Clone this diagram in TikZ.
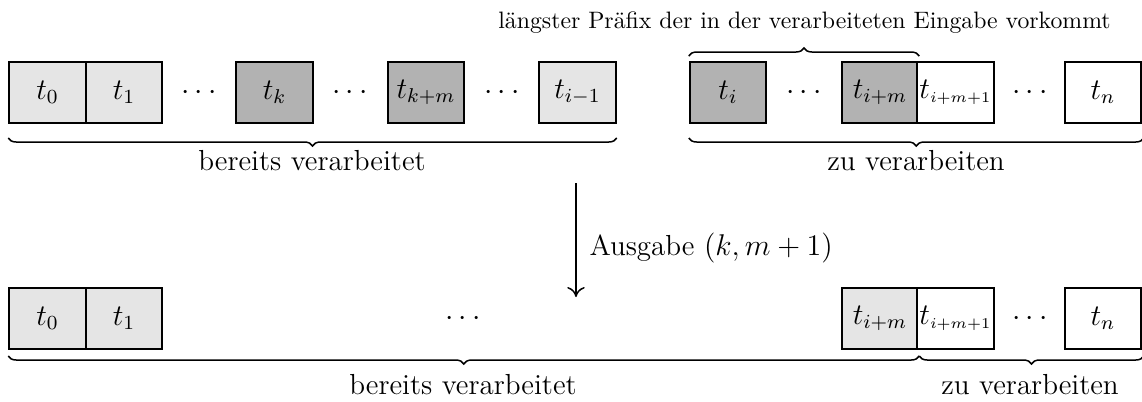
\documentclass[tikz,border=0pt]{standalone}
\usetikzlibrary{decorations.pathreplacing,arrows.meta}
\begin{document}
\begin{tikzpicture}[x=0.4pt,y=-0.4pt,
  lbl/.style={font=\fontsize{11.6}{14}\selectfont, inner sep=0pt},
  cell/.style={lbl, draw, line width=0.8pt, minimum width=30.6pt, minimum height=24.4pt, anchor=center},
  light/.style={cell, fill=black!10},
  dark/.style={cell, fill=black!30},
  plain/.style={cell, fill=white},
  dotsnode/.style={lbl},
  brc/.style={decorate, decoration={brace, amplitude=3.2pt}, line width=0.6pt},
  brcm/.style={decorate, decoration={brace, amplitude=3.2pt, mirror}, line width=0.6pt},
  captext/.style={font=\fontsize{11.6}{14}\selectfont, inner sep=0pt, anchor=base},
  smallcaptext/.style={font=\fontsize{9.5}{12}\selectfont, inner sep=0pt, anchor=base}
]
\useasboundingbox (0,0) rectangle (1142,401);

% ---- top row ----
\node[light] (a0) at (47.5,92.5) {$t_0$};
\node[light] (a1) at (124,92.5) {$t_1$};
\node[dotsnode] (ad1) at (199,92.5) {$\cdots$};
\node[dark] (ak) at (274.5,92.5) {$t_k$};
\node[dotsnode] (ad2) at (350,92.5) {$\cdots$};
\node[dark] (akm) at (426,92.5) {$t_{k+m}$};
\node[dotsnode] (ad3) at (502,92.5) {$\cdots$};
\node[light] (aim1) at (577.5,92.5) {$t_{i-1}$};

\node[dark] (ai) at (728,92.5) {$t_i$};
\node[dotsnode] (ad4) at (804,92.5) {$\cdots$};
\node[dark] (aim) at (880,92.5) {$t_{i+m}$};
\node[plain] (aim1b) at (955.5,92.5) {$t_{\scriptscriptstyle i+m+1}$};
\node[dotsnode] (ad5) at (1030,92.5) {$\cdots$};
\node[plain] (an) at (1103,92.5) {$t_n$};

% top braces
\draw[brcm] ([yshift=-5.6pt]a0.south west) -- ([yshift=-5.6pt]aim1.south east);
\node[captext] (t1) at (312,170) {bereits verarbeitet};
\draw[brcm] ([yshift=-5.6pt]ai.south west) -- ([yshift=-5.6pt,xshift=0.6pt]an.south east);
\node[captext] (t2) at (916,170) {zu verarbeiten};
\draw[brc] ([yshift=2pt]ai.north west) -- ([yshift=2pt]aim.north east);
\node[smallcaptext] (t3) at (804.5,28) {längster Präfix der in der verarbeiteten Eingabe vorkommt};

% arrow
\coordinate (arrtop) at (576,183);
\coordinate (arrbot) at (576,297);
\draw[line width=0.6pt, -{To[length=4pt,width=7pt]}] (arrtop) -- (arrbot);
\node[lbl, anchor=base west] (out) at (589,255) {Ausgabe $(k,m+1)$};

% ---- bottom row ----
\node[light] (b0) at (47.5,318.5) {$t_0$};
\node[light] (b1) at (124,318.5) {$t_1$};
\node[dotsnode] (bd1) at (463,318.5) {$\cdots$};
\node[light] (bim) at (880,318.5) {$t_{i+m}$};
\node[plain] (bim1) at (955.5,318.5) {$t_{\scriptscriptstyle i+m+1}$};
\node[dotsnode] (bd2) at (1030,318.5) {$\cdots$};
\node[plain] (bn) at (1103,318.5) {$t_n$};

% bottom braces
\draw[brcm] ([yshift=-2.4pt]b0.south west) -- ([yshift=-2.4pt]bim.south east);
\node[captext] (t4) at (463,394) {bereits verarbeitet};
\draw[brcm] ([yshift=-2.4pt]bim.south east) -- ([yshift=-2.4pt,xshift=0.6pt]bn.south east);
\node[captext] (t5) at (1030,394) {zu verarbeiten};
\end{tikzpicture}
\end{document}
